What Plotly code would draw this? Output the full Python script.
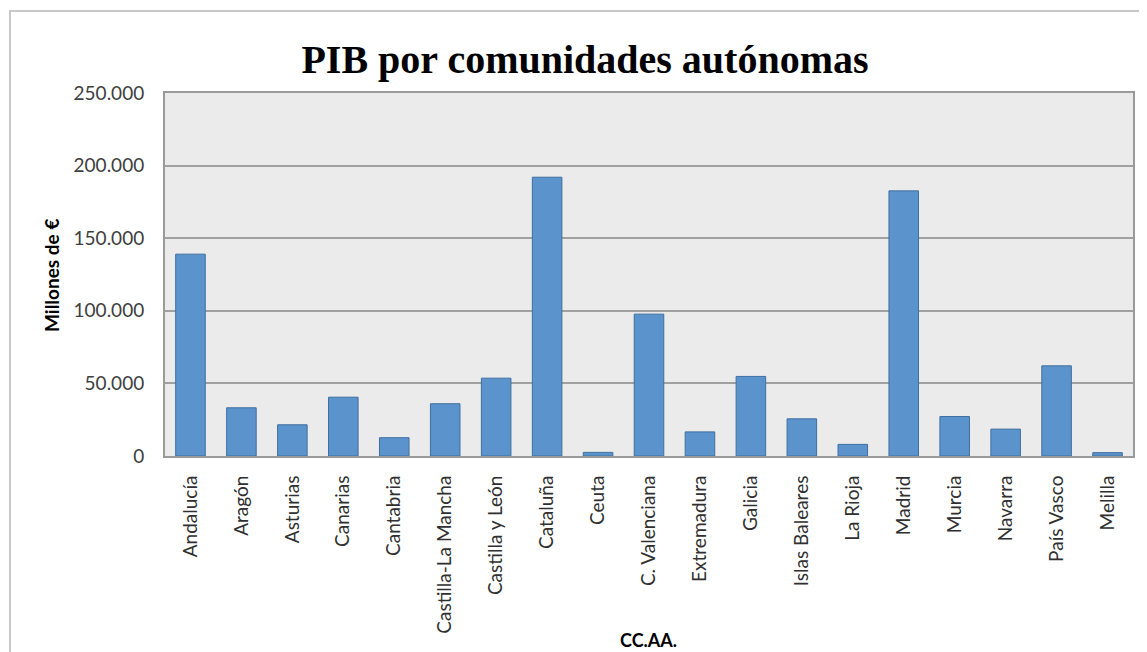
import plotly.graph_objects as go

regiones = ["Andalucía", "Aragón", "Asturias", "Canarias", "Cantabria",
            "Castilla-La Mancha", "Castilla y León", "Cataluña", "Ceuta",
            "C. Valenciana", "Extremadura", "Galicia", "Islas Baleares",
            "La Rioja", "Madrid", "Murcia", "Navarra", "País Vasco", "Melilla"]
pib = [139000, 33200, 21500, 40500, 12600,
       36000, 53600, 192000, 2500,
       97700, 16600, 54800, 25600,
       8000, 182600, 27200, 18500, 62100, 2300]
y_ticks = [0, 50000, 100000, 150000, 200000, 250000]

OFF = 8  # page body margin
W, H = 1147 - OFF, 652 - OFF
# plot area in page pixels: left 165, right 1133, top 93, bottom 456
L, R, T, B = 165 - OFF, 1147 - 1133, 93 - OFF, 652 - 456
pw, ph = W - L - R, H - T - B

def px_x(x):
    return (x - OFF - L) / pw

def px_y(y):
    return (H - B - (y - OFF)) / ph

fig = go.Figure()
fig.add_trace(go.Bar(
    x=regiones, y=pib,
    marker=dict(color="#5b93cd", line=dict(color="#3f6f9f", width=1)),
))

fig.update_layout(
    width=W, height=H,
    margin=dict(l=L, r=R, t=T, b=B),
    paper_bgcolor="white",
    plot_bgcolor="#ebebeb",
    separators=",.",
    bargap=0.42,
    showlegend=False,
    font=dict(family="Lato, sans-serif", color="#404040"),
    title=dict(
        text="<b>PIB por comunidades autónomas</b>",
        font=dict(family="Liberation Serif, serif", size=40, color="black"),
        x=(585 - OFF) / W, xanchor="center", xref="container",
        y=1 - (59 - OFF) / H, yanchor="middle", yref="container",
    ),
)
fig.update_xaxes(
    tickangle=-90,
    tickfont=dict(size=19, color="#303030"),
    showline=True, linecolor="#9a9a9a", linewidth=2, mirror=True,
    ticks="", ticklabelstandoff=10,
)
fig.update_yaxes(
    range=[0, 250000],
    tickvals=y_ticks,
    tickformat=",d",
    tickfont=dict(size=19, color="#404040"),
    showgrid=True, gridcolor="#a0a0a0", gridwidth=1.5,
    showline=True, linecolor="#9a9a9a", linewidth=2, mirror=True,
    ticks="", ticklabelstandoff=15,
    zeroline=False,
)

fig.add_annotation(
    text="<b>Millones de €</b>", textangle=-90,
    xref="paper", yref="paper", x=px_x(51), y=px_y(276),
    xanchor="center", yanchor="middle", showarrow=False,
    font=dict(size=19, color="black"),
)
fig.add_annotation(
    text="<b>CC.AA.</b>",
    xref="paper", yref="paper", x=px_x(648), y=px_y(640),
    xanchor="center", yanchor="middle", showarrow=False,
    font=dict(size=18, color="black"),
)
fig.add_shape(
    type="rect", xref="paper", yref="paper",
    x0=px_x(10), x1=px_x(1170), y0=px_y(680), y1=px_y(11),
    line=dict(color="#c8c8c8", width=2), fillcolor="rgba(0,0,0,0)",
    layer="below",
)

fig.write_html("out.html")
